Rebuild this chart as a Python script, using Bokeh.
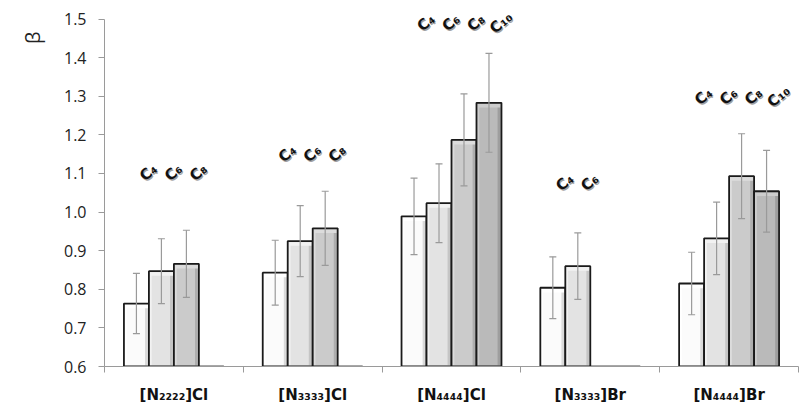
import math
from bokeh.plotting import figure
from bokeh.models import (ColumnDataSource, FixedTicker, PrintfTickFormatter, Whisker,
                          TeeHead, Title, Range1d)
from bokeh.core.properties import value
from bokeh.embed import file_html
from bokeh.resources import INLINE

# ---------------- data ----------------
categories = ["[N₂₂₂₂]Cl", "[N₃₃₃₃]Cl", "[N₄₄₄₄]Cl", "[N₃₃₃₃]Br", "[N₄₄₄₄]Br"]
series_labels = ["C₄", "C₆", "C₈", "C₁₀"]

beta_c4 = [0.763, 0.843, 0.989, 0.804, 0.815]
beta_c6 = [0.847, 0.925, 1.023, 0.860, 0.932]
beta_c8 = [0.866, 0.958, 1.187, None, 1.093]
beta_c10 = [None, None, 1.283, None, 1.054]

err_c4 = [0.078, 0.084, 0.099, 0.080, 0.081]
err_c6 = [0.084, 0.092, 0.102, 0.086, 0.094]
err_c8 = [0.087, 0.096, 0.119, None, 0.110]
err_c10 = [None, None, 0.128, None, 0.106]

label_y = [1.103, 1.152, 1.491, 1.077, 1.300]
y_ticks = [0.6, 0.7, 0.8, 0.9, 1.0, 1.1, 1.2, 1.3, 1.4, 1.5]

series_values = [beta_c4, beta_c6, beta_c8, beta_c10]
series_errors = [err_c4, err_c6, err_c8, err_c10]

fills = ["#fbfbfb", "#e3e3e3", "#cbcbcb", "#bababa"]
darks = ["#d2d2d2", "#bdbdbd", "#a6a6a6", "#979797"]
lights = ["#ffffff", "#f2f2f2", "#dcdcdc", "#cdcdcd"]

BAR_W = 0.18
START = 0.14
FONT = "Open Sans"
LFONT = "DejaVu Sans"

# y range extends slightly above 1.5 so top labels are not clipped; axis bounded to 0.6-1.5
p = figure(width=800, height=409, x_range=Range1d(0, 5), y_range=Range1d(0.6, 1.53),
           output_backend="svg", toolbar_location=None,
           min_border_left=104, min_border_right=2, min_border_top=7, min_border_bottom=43)
p.outline_line_color = None
p.xgrid.visible = False
p.ygrid.visible = False
p.background_fill_color = "white"

# floor segments
p.segment(x0=[i + START for i in range(len(categories))],
          x1=[i + 1 - START for i in range(len(categories))],
          y0=[0.6] * len(categories), y1=[0.6] * len(categories),
          line_color="#8a8a8a", line_width=2.5)

lab_x, lab_y, lab_t = [], [], []
for j, (vals, errs) in enumerate(zip(series_values, series_errors)):
    xs, tops, lo, hi = [], [], [], []
    for i, (v, e) in enumerate(zip(vals, errs)):
        if v is None:
            continue
        xc = i + START + BAR_W * (j + 0.5)
        xs.append(xc)
        tops.append(v)
        lo.append(v - e)
        hi.append(v + e)
        lab_x.append(xc)
        lab_y.append(label_y[i])
        lab_t.append(series_labels[j])
    left = [x - BAR_W / 2 for x in xs]
    right = [x + BAR_W / 2 for x in xs]
    p.quad(left=left, right=right, bottom=0.6, top=tops, fill_color=fills[j], line_color=None)
    # bevel: dark right strip, light left strip, light top strip
    p.quad(left=[r - 0.028 for r in right], right=[r - 0.006 for r in right], bottom=0.603,
           top=[t - 0.008 for t in tops], fill_color=darks[j], line_color=None, fill_alpha=0.8)
    p.quad(left=[l + 0.006 for l in left], right=[l + 0.02 for l in left], bottom=0.603,
           top=[t - 0.008 for t in tops], fill_color=lights[j], line_color=None)
    p.quad(left=[l + 0.006 for l in left], right=[r - 0.006 for r in right],
           bottom=[t - 0.012 for t in tops], top=[t - 0.003 for t in tops],
           fill_color=lights[j], line_color=None)
    p.quad(left=left, right=right, bottom=0.6, top=tops, fill_color=None,
           line_color="#1a1a1a", line_width=1.8)
    src = ColumnDataSource(dict(x=xs, lower=lo, upper=hi))
    w = Whisker(base="x", lower="lower", upper="upper", source=src, line_color="#9a9a9a",
                line_width=1.2,
                upper_head=TeeHead(size=7, line_color="#9a9a9a", line_width=1.2),
                lower_head=TeeHead(size=7, line_color="#9a9a9a", line_width=1.2))
    w.level = "overlay"
    p.add_layout(w)

# rotated series labels above groups (with soft shadow)
lsrc = ColumnDataSource(dict(x=lab_x, y=lab_y, t=lab_t))
p.text(x="x", y="y", text="t", source=lsrc, x_offset=13, y_offset=1.5,
       angle=0.7, text_align="center", text_baseline="middle",
       text_font=value(LFONT), text_font_size="15px", text_font_style="bold",
       text_color="#a0a0a0")
p.text(x="x", y="y", text="t", source=lsrc, x_offset=12, y_offset=0,
       angle=0.7, text_align="center", text_baseline="middle",
       text_font=value(LFONT), text_font_size="15px", text_font_style="bold",
       text_color="#111111")

# y axis
yax = p.yaxis[0]
yax.ticker = FixedTicker(ticks=y_ticks)
yax.bounds = (0.6, 1.5)
yax.formatter = PrintfTickFormatter(format="%.1f")
yax.axis_line_color = "#9a9a9a"
yax.major_tick_line_color = "#9a9a9a"
yax.major_tick_out = 6
yax.major_tick_in = 0
yax.minor_tick_line_color = None
yax.major_label_text_font = FONT
yax.major_label_text_font_size = "16px"
yax.major_label_text_color = "#222222"
yax.major_label_standoff = 12

# x axis
xax = p.xaxis[0]
centers = [i + 0.5 for i in range(len(categories))]
xax.ticker = FixedTicker(ticks=centers, minor_ticks=list(range(len(categories) + 1)))
xax.major_label_overrides = {c: name for c, name in zip(centers, categories)}
xax.axis_line_color = "#9a9a9a"
xax.major_tick_line_color = None
xax.minor_tick_line_color = "#9a9a9a"
xax.minor_tick_out = 6
xax.minor_tick_in = 0
xax.major_label_text_font = LFONT
xax.major_label_text_font_size = "15px"
xax.major_label_text_font_style = "bold"
xax.major_label_text_color = "#111111"
xax.major_label_standoff = 13

beta = Title(text="β", align="right", offset=24, standoff=29, text_font=FONT,
             text_font_size="20px", text_font_style="normal", text_color="#222222")
p.add_layout(beta, "left")

open("out.html", "w").write(file_html(p, INLINE))
